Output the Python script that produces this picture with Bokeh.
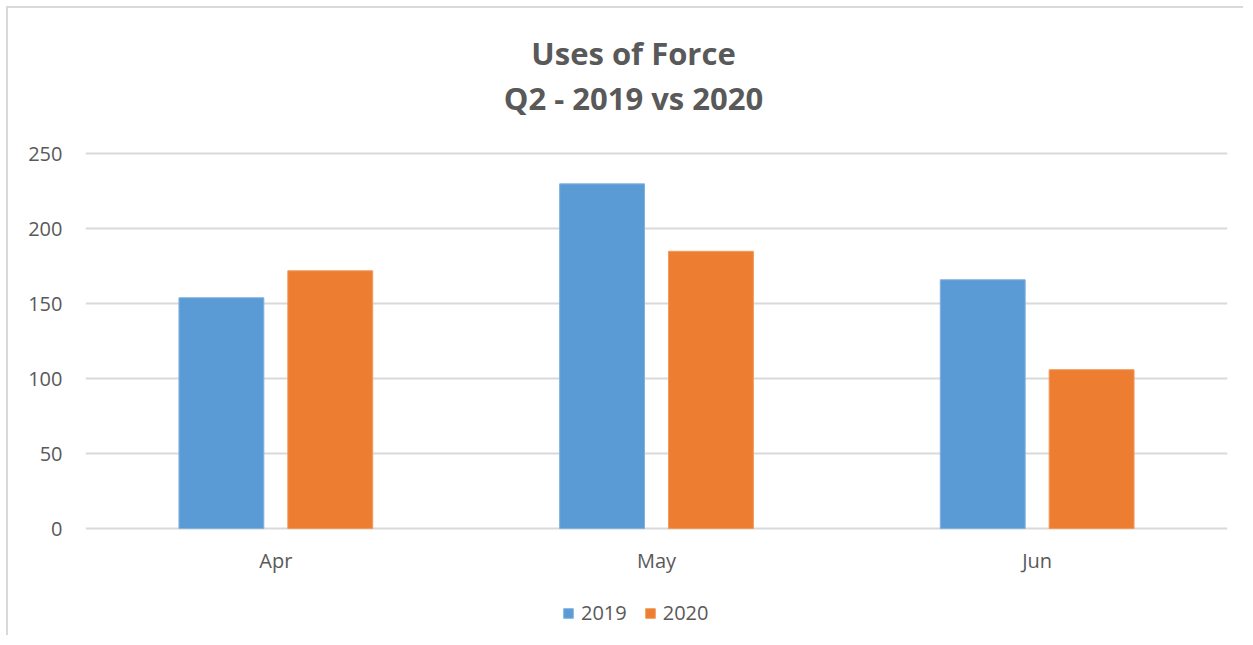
from bokeh.plotting import figure
from bokeh.models import FactorRange, Range1d, FixedTicker, Legend, LegendItem, ColumnDataSource, Label
from bokeh.transform import dodge
from bokeh.core.properties import value
from bokeh.embed import file_html
from bokeh.resources import INLINE

months = ["Apr", "May", "Jun"]
y2019 = [154, 230, 166]
y2020 = [172, 185, 106]
series = ["2019", "2020"]
y_ticks = [0, 50, 100, 150, 200, 250]
title_lines = ["Uses of Force", "Q2 - 2019 vs 2020"]

FONT = "Open Sans"
GREY = "#595959"

src = ColumnDataSource(dict(month=months, y2019=y2019, y2020=y2020, base=[0] * len(months)))

p = figure(
    x_range=FactorRange(factors=months, range_padding=0),
    y_range=Range1d(-70, 345),
    width=1237, height=629,
    output_backend="svg", toolbar_location=None,
    min_border_left=77, min_border_right=18, min_border_top=3, min_border_bottom=4,
)
p.styles = {"margin-left": "6px", "margin-top": "6px",
            "border-left": "2px solid #d9d9d9", "border-top": "2px solid #d9d9d9"}
p.title = None

# two-line title (screen units from the frame's bottom-left corner)
for line, ty in zip(title_lines, [581, 536]):
    p.add_layout(Label(text=line, x=548, y=ty, x_units="screen", y_units="screen",
                       text_align="center", text_baseline="middle",
                       text_font=FONT, text_font_size="31px", text_font_style="bold",
                       text_color=GREY))

r1 = p.vbar(x=dodge("month", -0.143, range=p.x_range), top="y2019", bottom="base", width=0.223,
            source=src, fill_color="#5b9bd5", line_color="#7fb2e0", line_width=1)
r2 = p.vbar(x=dodge("month", 0.143, range=p.x_range), top="y2020", bottom="base", width=0.223,
            source=src, fill_color="#ed7d31", line_color="#f29a5c", line_width=1)

# category labels under the zero line
p.text(x="month", y="base", text="month", source=src, y_offset=32,
       text_align="center", text_baseline="middle",
       text_font=value(FONT), text_font_size="20px", text_color=GREY)

p.outline_line_color = None
p.xgrid.grid_line_color = None
p.ygrid.grid_line_color = "#d9d9d9"
p.ygrid.grid_line_width = 2
p.ygrid.level = "underlay"

p.yaxis.ticker = FixedTicker(ticks=y_ticks)
p.yaxis.axis_line_color = None
p.yaxis.major_tick_line_color = None
p.yaxis.minor_tick_line_color = None
p.yaxis.major_label_standoff = 17
p.yaxis.major_label_text_font = FONT
p.yaxis.major_label_text_font_size = "20px"
p.yaxis.major_label_text_color = GREY

p.xaxis.visible = False

legend = Legend(
    items=[LegendItem(label=series[0], renderers=[r1]), LegendItem(label=series[1], renderers=[r2])],
    orientation="horizontal",
    location=(477, 7),
    label_text_font=FONT, label_text_font_size="20px", label_text_color=GREY,
    glyph_width=12, glyph_height=12, label_standoff=7, spacing=17,
    margin=0, padding=4,
    border_line_color=None, background_fill_alpha=0,
)
p.add_layout(legend, "center")

open("out.html", "w").write(file_html(p, INLINE))
